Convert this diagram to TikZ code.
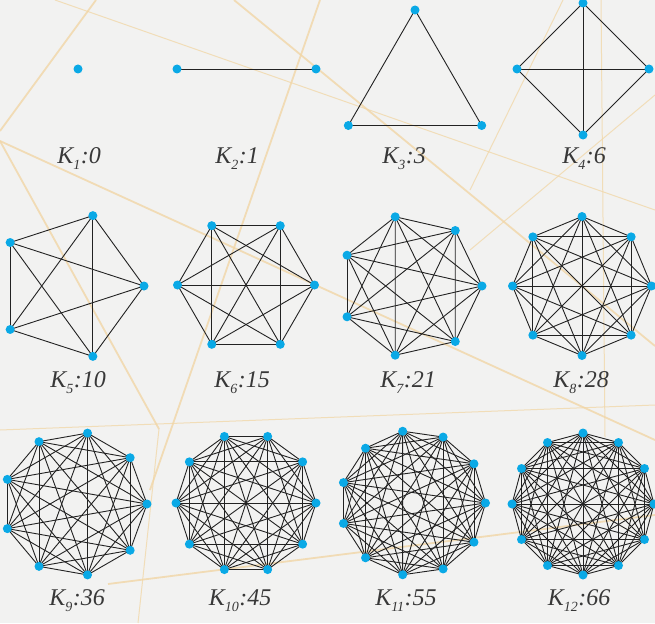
\documentclass[tikz,border=0pt]{standalone}
\usepackage{fontspec}
\setmainfont{Liberation Serif}
\usepackage{xcolor}
\usepackage{tikz}
\usetikzlibrary{calc,backgrounds}
\definecolor{paper}{HTML}{F2F2F1}
\definecolor{straw}{HTML}{F1D6A6}
\definecolor{dotblue}{HTML}{0AA9E6}
\definecolor{ink}{HTML}{222222}
\definecolor{labelgray}{HTML}{383838}
\tikzset{
  vertex/.style={
    circle,fill=dotblue,draw=none,
    inner sep=0pt,minimum size=9pt
  },
  edgeline/.style={draw=ink,line width=.9pt},
  strand/.style={draw=straw,line width=1.8pt,opacity=.8},
  thinstrand/.style={draw=straw,line width=1pt,opacity=.75},
  countlabel/.style={
    anchor=base,text=labelgray,
    font=\fontsize{24}{28}\selectfont\itshape
  }
}
% K_n label: subscript set low after the K
\newcommand{\kname}[2]{K\raisebox{-6.5pt}{\fontsize{14}{14}\selectfont #1}\kern.5pt:#2}
% complete graph: name, n, centre x, centre y, radius, start angle
\newcommand{\completegraph}[6]{%
  \foreach \i in {1,...,#2}
    \node[vertex] (#1-\i) at ($(#3,#4)+({#6+360*(\i-1)/#2}:#5)$) {};
  \begin{pgfonlayer}{background}
    \foreach \i in {1,...,#2}{
      \foreach \j in {1,...,#2}{
        \ifnum\i<\j \draw[edgeline] (#1-\i.center)--(#1-\j.center);\fi
      }
    }
  \end{pgfonlayer}
}

\begin{document}
\begin{tikzpicture}[x=1pt,y=-1pt]
\useasboundingbox (0,0) rectangle (655,623);

\begin{pgfonlayer}{background}
\fill[paper] (0,0) rectangle (655,623);
\draw[strand] (96,0)--(0,131);
\draw[strand] (234,0)--(655,346);
\draw[thinstrand] (55,0)--(655,210);
\draw[strand] (0,141)--(655,440);
\draw[strand] (0,141)--(159,429);
\draw[thinstrand] (159,429)--(138,623);
\draw[strand] (320,0)--(150,490);
\draw[thinstrand] (0,430)--(655,405);
\draw[strand] (108,584)--(655,515);
\draw[thinstrand] (601,0)--(605,437);
\draw[thinstrand] (563,0)--(470,190);
\draw[thinstrand] (655,95)--(470,250);
\end{pgfonlayer}

% row 1
\completegraph{ka}{1}{78}{69}{0}{0}
\completegraph{kb}{2}{246.5}{69}{69.5}{0}
\completegraph{kc}{3}{415}{87}{77}{-90}
\completegraph{kd}{4}{583}{69}{66}{0}
% row 2
\completegraph{ke}{5}{70}{286}{74}{0}
\completegraph{kf}{6}{246}{285}{68.5}{0}
\completegraph{kg}{7}{411}{286}{71}{0}
\completegraph{kh}{8}{582}{286}{69.5}{0}
% row 3
\completegraph{ki}{9}{75}{504}{72}{0}
\completegraph{kj}{10}{246}{503}{70}{0}
\completegraph{kk}{11}{413}{503}{72.5}{0}
\completegraph{kl}{12}{583}{504}{71}{0}

\node[countlabel] (la) at (79,163) {\kname{1}{0}};
\node[countlabel] (lb) at (237,163) {\kname{2}{1}};
\node[countlabel] (lc) at (404,163) {\kname{3}{3}};
\node[countlabel] (ld) at (584,163) {\kname{4}{6}};
\node[countlabel] (le) at (78,387) {\kname{5}{10}};
\node[countlabel] (lf) at (242,387) {\kname{6}{15}};
\node[countlabel] (lg) at (408,387) {\kname{7}{21}};
\node[countlabel] (lh) at (581,387) {\kname{8}{28}};
\node[countlabel] (li) at (77,605) {\kname{9}{36}};
\node[countlabel] (lj) at (240,605) {\kname{10}{45}};
\node[countlabel] (lk) at (406,605) {\kname{11}{55}};
\node[countlabel] (ll) at (579,605) {\kname{12}{66}};
\end{tikzpicture}
\end{document}
